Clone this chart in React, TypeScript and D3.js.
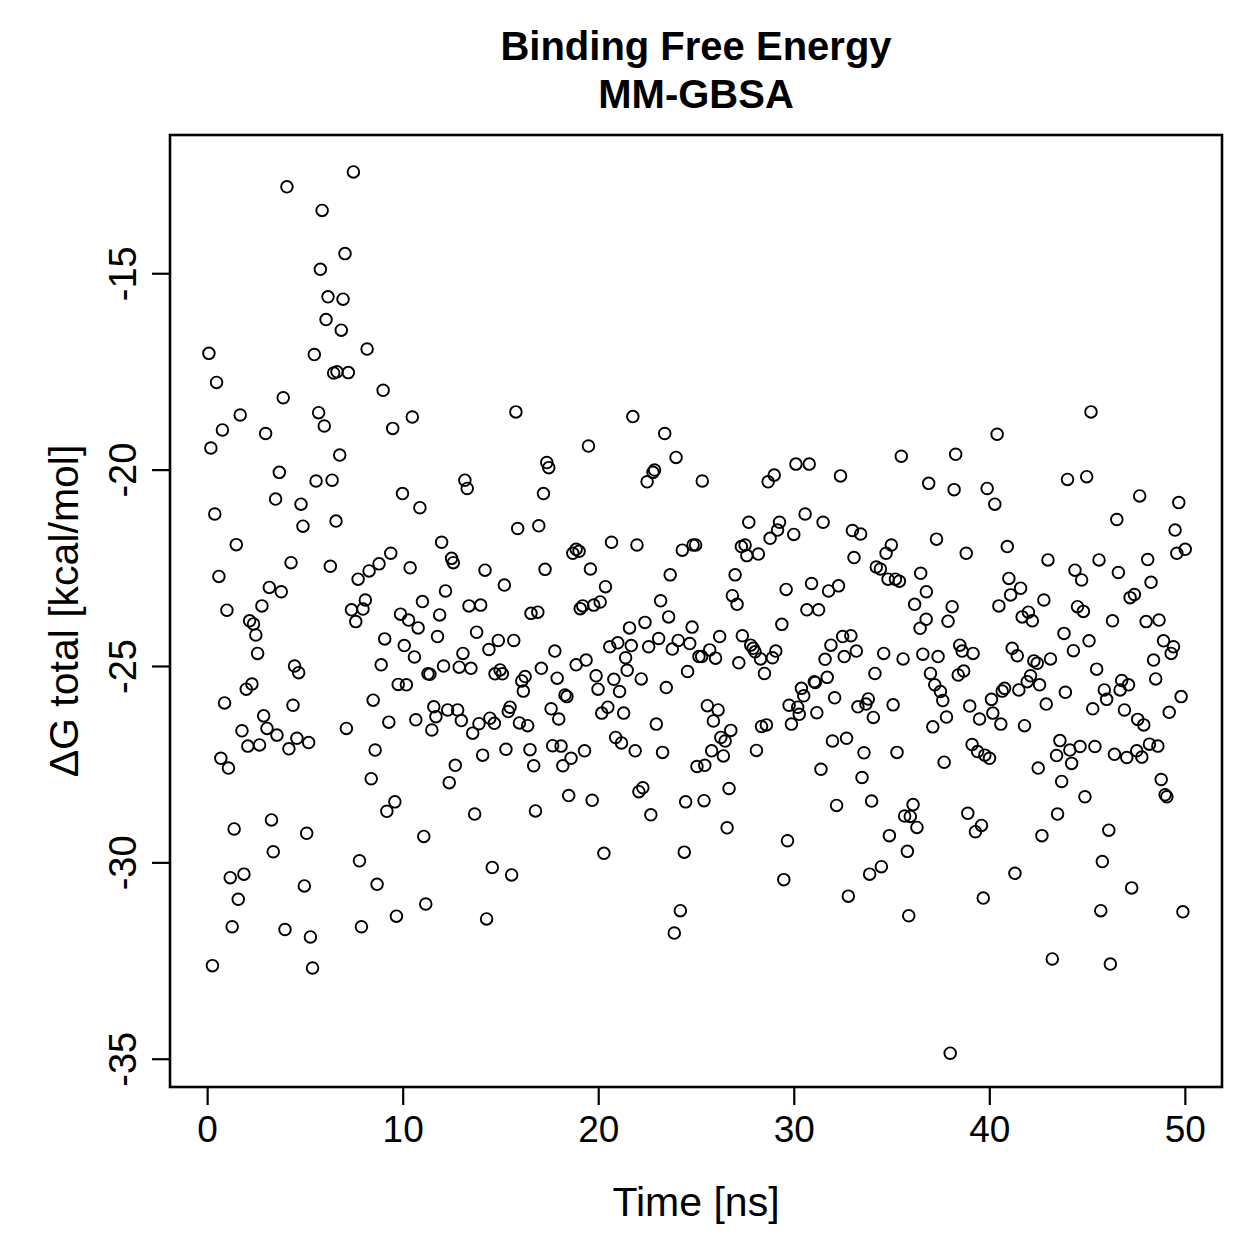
import React, { useEffect, useRef } from 'react';
import * as d3 from 'd3';

// [time (ns), dG total (kcal/mol)], grouped by 10 ns windows
const block0to10: [number, number][] = [
  [7.48, -12.42], [4.08, -12.8], [5.88, -13.4], [7.05, -14.5], [5.79, -14.9], [6.18, -15.6], [6.95, -15.66],
  [6.08, -16.18], [6.86, -16.45], [0.09, -17.04], [5.48, -17.07], [6.47, -17.54], [6.64, -17.51], [7.22, -17.53],
  [0.48, -17.78], [3.89, -18.17], [1.69, -18.61], [5.7, -18.55], [5.99, -18.89], [0.78, -18.99], [2.99, -19.08],
  [0.19, -19.45], [6.78, -19.63], [3.69, -20.07], [5.57, -20.29], [6.39, -20.27], [3.5, -20.75], [4.8, -20.88],
  [0.39, -21.13], [4.9, -21.44], [6.59, -21.31], [1.49, -21.91], [4.29, -22.37], [6.3, -22.46], [0.6, -22.72],
  [3.18, -23.0], [3.79, -23.11], [1.01, -23.58], [2.8, -23.47], [7.38, -23.57],
  [2.17, -23.85], [2.37, -23.93], [7.6, -23.87], [2.49, -24.21], [2.58, -24.68], [4.47, -25.0], [4.68, -25.17],
  [2.29, -25.46], [2.0, -25.59], [0.89, -25.94], [4.39, -26.0], [2.89, -26.27], [1.78, -26.65], [3.06, -26.59],
  [3.57, -26.76], [2.08, -27.04], [2.68, -27.01], [4.18, -27.11], [4.59, -26.84], [5.19, -26.95], [7.12, -26.59],
  [0.7, -27.35], [1.09, -27.6], [1.38, -29.15], [3.29, -28.92], [5.09, -29.26], [3.38, -29.73], [1.18, -30.39],
  [1.88, -30.3], [4.97, -30.6], [1.59, -30.94], [1.28, -31.64], [3.98, -31.71], [5.28, -31.9], [0.27, -32.63],
  [5.39, -32.69],
  [8.18, -16.93], [9.0, -17.98], [9.49, -18.95], [9.99, -20.61], [9.39, -22.13], [8.79, -22.4], [8.28, -22.58],
  [7.72, -22.79], [8.09, -23.32], [7.97, -23.55], [9.89, -23.68], [9.08, -24.31], [8.9, -24.97], [9.77, -25.47],
  [8.49, -25.87], [9.29, -26.43], [8.59, -27.14], [8.39, -27.87], [9.6, -28.46], [9.19, -28.7], [7.79, -29.96],
  [8.69, -30.56], [9.68, -31.37], [7.89, -31.64],
];

const block10to20: [number, number][] = [
  [10.49, -18.66], [15.79, -18.53], [13.18, -20.27], [13.3, -20.48], [10.88, -20.97], [15.88, -21.5],
  [11.99, -21.85], [12.5, -22.26], [12.59, -22.37], [10.38, -22.5], [14.21, -22.56], [15.2, -22.94],
  [11.01, -23.36], [12.19, -23.09], [13.39, -23.47], [13.99, -23.45],
  [10.3, -23.83], [10.79, -24.03], [11.89, -23.7], [10.08, -24.48], [10.6, -24.77], [11.78, -24.25],
  [13.78, -24.14], [14.41, -24.58], [14.89, -24.35], [15.68, -24.35], [13.08, -24.68], [11.29, -25.2],
  [11.39, -25.21], [12.09, -25.0], [12.89, -25.03], [13.49, -25.06], [14.72, -25.2], [14.98, -25.1],
  [15.1, -25.2], [16.09, -25.38], [16.26, -25.27], [16.17, -25.64], [10.19, -25.48],
  [11.59, -26.04], [11.7, -26.29], [12.3, -26.12], [12.81, -26.12], [13.0, -26.39], [11.49, -26.63],
  [10.67, -26.37], [13.9, -26.47], [13.58, -26.71], [14.46, -26.33], [14.69, -26.46], [15.4, -26.16],
  [15.49, -26.05], [15.97, -26.45], [14.09, -27.27], [15.28, -27.12], [12.69, -27.53], [12.38, -27.97],
  [13.68, -28.77], [11.08, -29.34], [14.58, -30.13], [15.57, -30.32], [11.18, -31.06], [14.29, -31.44],
  [19.5, -19.4], [17.37, -19.82], [17.47, -19.95], [17.2, -20.61], [16.96, -21.43], [18.7, -22.13],
  [18.87, -22.03], [19.02, -22.08], [17.28, -22.54], [19.6, -22.53], [16.56, -23.66], [16.91, -23.63],
  [19.08, -23.54], [19.21, -23.47], [19.77, -23.45], [17.78, -24.62], [18.87, -24.97], [19.38, -24.85],
  [17.09, -25.06], [17.9, -25.31], [19.89, -25.25], [19.99, -25.59], [18.3, -25.74], [18.4, -25.78],
  [17.59, -26.09], [17.98, -26.35], [16.39, -26.52], [16.51, -27.13], [16.7, -27.54], [17.67, -27.03],
  [18.1, -27.04], [18.61, -27.35], [18.19, -27.54], [19.3, -27.16], [18.49, -28.3], [19.69, -28.42],
  [16.79, -28.69],
];

const block20to30: [number, number][] = [
  [21.77, -18.65], [23.4, -19.08], [23.98, -19.69], [22.88, -20.01], [22.8, -20.07], [22.5, -20.31],
  [25.32, -20.29], [20.68, -21.85], [21.98, -21.92], [24.3, -22.05], [24.85, -21.92], [24.98, -21.92],
  [20.37, -22.98], [23.68, -22.68], [23.19, -23.34], [20.1, -23.37], [23.6, -23.75], [21.6, -24.03],
  [22.39, -23.89], [24.8, -24.01], [20.59, -24.51], [21.0, -24.41], [21.69, -24.48], [22.58, -24.51],
  [23.09, -24.3], [23.79, -24.57], [24.09, -24.35], [24.68, -24.43], [25.15, -24.76], [21.4, -24.79],
  [21.48, -25.11], [20.8, -25.34], [21.09, -25.65], [22.2, -25.33], [23.48, -25.55], [24.57, -25.14],
  [20.18, -26.2], [20.49, -26.05], [21.3, -26.2], [22.97, -26.48], [20.89, -26.82], [21.19, -26.96],
  [21.89, -27.16], [23.29, -27.2], [25.05, -27.56], [25.45, -27.53], [22.28, -28.1], [22.08, -28.2],
  [22.69, -28.79], [24.47, -28.46], [20.29, -29.77], [24.4, -29.74], [24.2, -31.23], [23.89, -31.8],
  [29.0, -20.14], [28.69, -20.31], [27.7, -21.34], [29.27, -21.34], [29.17, -21.54], [28.79, -21.75],
  [27.32, -21.96], [27.51, -21.92], [27.6, -22.19], [28.19, -22.15], [27.0, -22.68], [26.86, -23.21],
  [27.1, -23.43], [29.61, -23.05], [29.39, -23.94], [26.21, -24.25], [27.37, -24.23], [25.7, -24.59],
  [25.29, -24.76], [26.0, -24.8], [27.8, -24.47], [27.92, -24.55], [28.02, -24.64], [28.3, -24.82],
  [29.08, -24.62], [28.91, -24.79], [27.19, -24.92], [28.5, -25.19], [29.76, -26.0], [29.88, -26.48],
  [25.58, -26.01], [26.13, -26.12], [25.89, -26.4], [26.78, -26.64], [26.27, -26.82], [26.49, -26.91],
  [25.8, -27.16], [26.4, -27.29], [28.35, -26.54], [28.6, -26.5], [28.09, -27.15], [26.69, -28.12],
  [25.41, -28.43], [26.59, -29.12], [29.68, -29.45], [29.49, -30.44],
];

const block30to40: [number, number][] = [
  [30.11, -19.86], [30.79, -19.86], [32.39, -20.16], [30.58, -21.13], [31.5, -21.34], [30.0, -21.65],
  [33.0, -21.55], [33.42, -21.64], [33.08, -22.24], [30.91, -22.9], [31.78, -23.09], [32.29, -22.96],
  [30.67, -23.57], [31.27, -23.57], [31.9, -24.47], [32.5, -24.25], [32.92, -24.23], [31.6, -24.83],
  [32.58, -24.76], [33.2, -24.62], [34.15, -25.19], [30.39, -25.57], [30.51, -25.76], [31.05, -25.4],
  [31.1, -25.42], [31.71, -25.29], [30.2, -26.05], [30.28, -26.23], [31.18, -26.19], [32.09, -25.81],
  [33.28, -26.04], [33.69, -25.97], [33.81, -25.84], [34.07, -26.31], [31.98, -26.91], [32.7, -26.84],
  [33.59, -27.21], [31.39, -27.63], [33.49, -27.84], [32.19, -28.55], [33.98, -28.44], [33.88, -30.3],
  [34.48, -30.11], [32.79, -30.86],
  [35.5, -19.66], [38.28, -19.61], [36.9, -20.35], [38.2, -20.51], [39.89, -20.48], [37.3, -21.77],
  [34.99, -21.92], [34.72, -22.13], [38.82, -22.13], [34.22, -22.48], [34.43, -22.53], [34.82, -22.79],
  [35.2, -22.79], [35.4, -22.84], [36.49, -22.64], [36.78, -23.11], [36.18, -23.43], [38.1, -23.49],
  [36.77, -23.81], [36.46, -24.04], [37.89, -23.86], [34.6, -24.68], [35.59, -24.82], [36.6, -24.7],
  [37.38, -24.76], [38.49, -24.47], [38.61, -24.62], [39.17, -24.68], [36.99, -25.19], [37.21, -25.48],
  [37.5, -25.65], [37.62, -25.88], [38.41, -25.23], [38.69, -25.13], [35.08, -25.99], [39.0, -26.02],
  [39.5, -26.35], [37.81, -26.3], [37.11, -26.55], [35.28, -27.2], [37.69, -27.45], [39.12, -27.0],
  [39.4, -27.18], [39.77, -27.27], [35.67, -28.82], [36.1, -28.53], [35.96, -28.83], [36.3, -29.11],
  [34.89, -29.32], [35.81, -29.72], [38.9, -28.75], [39.6, -29.06], [39.29, -29.22], [39.69, -30.91],
  [35.88, -31.36], [38.0, -34.86],
];

const block40to50: [number, number][] = [
  [40.4, -19.1], [40.28, -20.88], [40.92, -21.96], [43.0, -22.3], [41.0, -22.77], [41.6, -23.02],
  [41.09, -23.19], [40.49, -23.47], [42.79, -23.32], [41.68, -23.75], [42.0, -23.63], [42.2, -23.85],
  [41.17, -24.55], [41.43, -24.74], [42.28, -24.87], [42.45, -24.93], [43.13, -24.82], [40.78, -25.57],
  [40.66, -25.64], [41.51, -25.61], [41.94, -25.4], [42.11, -25.25], [42.57, -25.48], [42.91, -25.97],
  [40.11, -25.85], [40.18, -26.2], [40.59, -26.48], [41.8, -26.52], [40.01, -27.35], [42.5, -27.6],
  [42.69, -29.32], [43.49, -28.77], [41.31, -30.28], [43.22, -32.46],
  [45.2, -18.53], [44.0, -20.25], [44.98, -20.18], [47.69, -20.67], [49.69, -20.84], [46.52, -21.27],
  [49.5, -21.54], [49.59, -22.13], [50.02, -22.03], [45.61, -22.3], [48.1, -22.29], [44.38, -22.56],
  [44.72, -22.81], [46.6, -22.62], [48.27, -22.87], [47.2, -23.26], [47.42, -23.18], [44.51, -23.49],
  [44.81, -23.61], [46.3, -23.85], [48.02, -23.87], [48.68, -23.83], [43.82, -24.17], [44.3, -24.61],
  [45.1, -24.36], [45.49, -25.08], [48.91, -24.36], [49.42, -24.51], [49.3, -24.68], [48.4, -24.85],
  [48.51, -25.33], [49.81, -25.78], [49.2, -26.18], [43.89, -25.67], [45.88, -25.61], [46.0, -25.85],
  [46.77, -25.37], [47.12, -25.48], [46.69, -25.61], [45.29, -26.09], [46.91, -26.12], [47.59, -26.36],
  [47.9, -26.5], [43.61, -26.9], [43.44, -27.28], [44.12, -27.14], [44.21, -27.48], [44.64, -27.05],
  [45.4, -27.05], [46.4, -27.25], [47.03, -27.33], [47.54, -27.16], [47.8, -27.32], [48.19, -26.99],
  [48.62, -27.04], [43.7, -27.94], [44.89, -28.33], [48.79, -27.89], [48.99, -28.28], [49.08, -28.33],
  [46.11, -29.18], [45.78, -29.98], [47.28, -30.65], [45.7, -31.23], [49.9, -31.26], [46.19, -32.59],
];

const xTicks = [0, 10, 20, 30, 40, 50];
const yTicks = [-35, -30, -25, -20, -15];
const titleLines = ['Binding Free Energy', 'MM-GBSA'];
const xLabel = 'Time [ns]';
const yLabel = 'ΔG total [kcal/mol]';

const FONT = '"Liberation Sans", Arial, Helvetica, sans-serif';

const App = () => {
  const ref = useRef<SVGSVGElement>(null);

  useEffect(() => {
    const svg = d3.select(ref.current);
    svg.selectAll('*').remove();

    const W = 1259, H = 1259;
    const box = { left: 170, right: 1222, top: 135, bottom: 1087 };

    svg.append('rect').attr('width', W).attr('height', H).attr('fill', '#fff');

    const x = d3.scaleLinear().domain([-1.9, 51.9]).range([box.left, box.right]);
    const y = d3.scaleLinear().domain([-35.72, -11.48]).range([box.bottom, box.top]);

    const points = [...block0to10, ...block10to20, ...block20to30, ...block30to40, ...block40to50];

    // points
    svg.append('g')
      .selectAll('circle')
      .data(points)
      .enter()
      .append('circle')
      .attr('cx', d => x(d[0]))
      .attr('cy', d => y(d[1]))
      .attr('r', 5.8)
      .attr('fill', 'none')
      .attr('stroke', '#000')
      .attr('stroke-width', 1.9);

    // x axis
    const gx = svg.append('g')
      .attr('transform', `translate(0,${box.bottom})`)
      .call(d3.axisBottom(x).tickValues(xTicks).tickSize(18).tickFormat(d3.format('d')));
    gx.select('.domain').remove();
    gx.selectAll('line').attr('stroke-width', 2.2);
    gx.selectAll('text')
      .attr('dy', 0)
      .attr('y', 55)
      .style('font-family', FONT)
      .style('font-size', '37px')
      .attr('fill', '#000');

    // y axis
    const gy = svg.append('g')
      .attr('transform', `translate(${box.left},0)`)
      .call(d3.axisLeft(y).tickValues(yTicks).tickSize(18).tickFormat(d => `${d}`));
    gy.select('.domain').remove();
    gy.selectAll('line').attr('stroke-width', 2.2);
    gy.selectAll('text')
      .attr('transform', 'rotate(-90)')
      .attr('x', 0)
      .attr('y', -34)
      .attr('dy', 0)
      .style('text-anchor', 'middle')
      .style('font-family', FONT)
      .style('font-size', '38px')
      .attr('fill', '#000');

    // frame
    svg.append('rect')
      .attr('x', box.left)
      .attr('y', box.top)
      .attr('width', box.right - box.left)
      .attr('height', box.bottom - box.top)
      .attr('fill', 'none')
      .attr('stroke', '#000')
      .attr('stroke-width', 2.6);

    // title
    const cx = (box.left + box.right) / 2;
    svg.selectAll('.title')
      .data(titleLines)
      .enter()
      .append('text')
      .attr('class', 'title')
      .attr('x', cx)
      .attr('y', (d, i) => 60 + i * 48)
      .style('text-anchor', 'middle')
      .style('font-family', FONT)
      .style('font-weight', 'bold')
      .style('font-size', '40px')
      .text(d => d);

    // axis labels
    svg.append('text')
      .attr('x', cx)
      .attr('y', 1216)
      .style('text-anchor', 'middle')
      .style('font-family', FONT)
      .style('font-size', '41px')
      .text(xLabel);

    svg.append('text')
      .attr('transform', 'rotate(-90)')
      .attr('x', -(box.top + box.bottom) / 2)
      .attr('y', 78)
      .style('text-anchor', 'middle')
      .style('font-family', FONT)
      .style('font-size', '41px')
      .text(yLabel);
  }, []);

  return (
    <svg
      ref={ref}
      width={1259}
      height={1259}
      style={{ display: 'block', position: 'absolute', left: 0, top: 0 }}
    />
  );
};

export default App;
